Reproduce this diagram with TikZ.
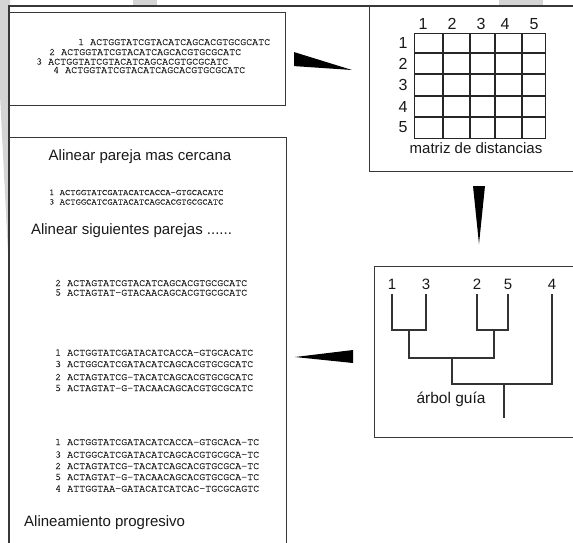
\documentclass[tikz,border=0pt]{standalone}
\usepackage{fontspec}
\setmainfont{Liberation Sans}
\newfontfamily\seqfont[FakeBold=1.2]{TeX Gyre Cursor}
\begin{document}
\begin{tikzpicture}[x=1pt,y=-1pt,
  boxline/.style={draw=black!78,line width=1.2pt},
  gridline/.style={draw=black!85,line width=1.1pt},
  treeline/.style={draw=black!80,line width=1.1pt},
  wedge/.style={fill=black,draw=none},
  head/.style={font=\fontsize{15}{15}\selectfont,text=black!90,inner sep=0pt},
  label/.style={font=\fontsize{16}{16}\selectfont,text=black!90,inner sep=0pt,anchor=base},
  seqtxt/.style={font=\seqfont\fontsize{10}{10}\selectfont,text=black!85,inner sep=0pt,anchor=base west},
  seqsmall/.style={seqtxt,font=\seqfont\fontsize{8.8}{8.8}\selectfont}]
\useasboundingbox (0,0) rectangle (573,542);
\clip (0,0) rectangle (573,542);

% faint background shapes
\fill[black!17] (0,0) -- (10,0) -- (10,292) -- (0,95) -- cycle;
\fill[black!17] (133,0) rectangle (157,6);
\fill[black!17] (499,0) rectangle (543,6);
\fill[white] (10,6.6) rectangle (580,560);

% outer frame lines
\draw[boxline] (9,560) |- (600,6);

% boxes
\node[boxline,anchor=north west,minimum width=276pt,minimum height=93pt,inner sep=0pt] (seqbox) at (9,12) {};
\node[boxline,anchor=north west,minimum width=277pt,minimum height=430pt,inner sep=0pt] (alnbox) at (9,137) {};
\node[boxline,anchor=north west,minimum width=231pt,minimum height=165pt,inner sep=0pt] (matbox) at (369,6) {};
\node[boxline,anchor=north west,minimum width=226pt,minimum height=171pt,inner sep=0pt] (treebox) at (374,266) {};

% input sequences
\node[seqtxt] (in1) at (78,45) {1 ACTGGTATCGTACATCAGCACGTGCGCATC};
\node[seqtxt] (in2) at (49,55) {2 ACTGGTATCGTACATCAGCACGTGCGCATC};
\node[seqtxt] (in3) at (36,64.5) {3 ACTGGTATCGTACATCAGCACGTGCGCATC};
\node[seqtxt] (in4) at (53,73) {4 ACTGGTATCGTACATCAGCACGTGCGCATC};

% distance matrix
\node[gridline,anchor=north west,minimum width=131pt,minimum height=105pt,inner sep=0pt] (grid) at (414,33) {};
\foreach \x in {443,470,495,522} \draw[gridline] (\x,33) -- (\x,138);
\foreach \y in {53,74,96,117} \draw[gridline] (414,\y) -- (545,\y);
\foreach \x/\t in {423/1,452/2,481/3,505/4,534/5}
  \node[label] (col\t) at (\x,29) {\t};
\foreach \y/\t in {43/1,63.5/2,85/3,106.5/4,127.5/5}
  \node[label,anchor=center] (row\t) at (403,\y) {\t};
\node[head,anchor=base] (matcap) at (476,153) {matriz de distancias};

% guide tree
\foreach \x/\t in {392/1,426/3,477/2,508/5,552/4}
  \node[label,font=\fontsize{15}{15}\selectfont] (leaf\t) at (\x,289) {\t};
\coordinate (j13) at (409,330);
\coordinate (j25) at (494,330);
\coordinate (jab) at (452,358);
\coordinate (jall) at (504,384);
\draw[treeline] (392,294) |- (j13) -| (426,294);
\draw[treeline] (477,294) |- (j25) -| (508,294);
\draw[treeline] (j13) |- (jab) -| (j25);
\draw[treeline] (jab) |- (jall) -| (552,294);
\draw[treeline] (jall) -- (504,418);
\node[head,anchor=base,font=\fontsize{15.5}{15.5}\selectfont] (treecap) at (451,403) {árbol guía};

% alignment steps
\node[head,anchor=base] (h1) at (140,160) {Alinear pareja mas cercana};
\node[seqsmall] (p1) at (49,195) {1 ACTGGTATCGATACATCACCA-GTGCACATC};
\node[seqsmall] (p3) at (49,204.5) {3 ACTGGCATCGATACATCAGCACGTGCGCATC};
\node[head,anchor=base] (h2) at (131.5,234) {Alinear siguientes parejas ......};

\node[seqtxt] (q2) at (55,286) {2 ACTAGTATCGTACATCAGCACGTGCGCATC};
\node[seqtxt] (q5) at (55,295.5) {5 ACTAGTAT-GTACAACAGCACGTGCGCATC};

\node[seqtxt] (r1) at (55,355.5) {1 ACTGGTATCGATACATCACCA-GTGCACATC};
\node[seqtxt] (r3) at (55,367) {3 ACTGGCATCGATACATCAGCACGTGCGCATC};
\node[seqtxt] (r2) at (55,380) {2 ACTAGTATCG-TACATCAGCACGTGCGCATC};
\node[seqtxt] (r5) at (55,391) {5 ACTAGTAT-G-TACAACAGCACGTGCGCATC};

\node[seqtxt] (s1) at (55,445) {1 ACTGGTATCGATACATCACCA-GTGCACA-TC};
\node[seqtxt] (s3) at (55,457.5) {3 ACTGGCATCGATACATCAGCACGTGCGCA-TC};
\node[seqtxt] (s2) at (55,469) {2 ACTAGTATCG-TACATCAGCACGTGCGCA-TC};
\node[seqtxt] (s5) at (55,480) {5 ACTAGTAT-G-TACAACAGCACGTGCGCA-TC};
\node[seqtxt] (s4) at (55,491.5) {4 ATTGGTAA-GATACATCATCAC-TGCGCAGTC};
\node[head,anchor=base west] (h3) at (24,526) {Alineamiento progresivo};

% wedge connectors between the stages
\coordinate (w1a) at ([xshift=8pt,yshift=7pt]seqbox.east);
\coordinate (w1b) at ([xshift=8pt,yshift=-7pt]seqbox.east);
\coordinate (w1t) at (352,70);
\fill[wedge] (w1a) -- (w1b) -- (w1t) -- cycle;
\coordinate (w2a) at (473,186);
\coordinate (w2b) at (485,186);
\coordinate (w2t) at (479,244);
\fill[wedge] (w2a) -- (w2b) -- (w2t) -- cycle;
\coordinate (w3a) at (353,350);
\coordinate (w3b) at (353,363);
\coordinate (w3t) at (295,357);
\fill[wedge] (w3a) -- (w3b) -- (w3t) -- cycle;
\end{tikzpicture}
\end{document}
